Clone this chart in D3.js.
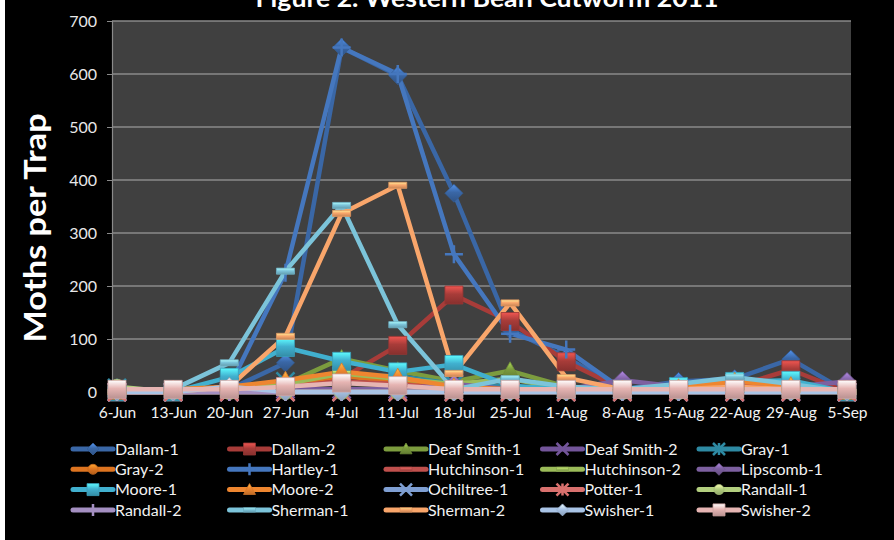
<!DOCTYPE html>
<html><head><meta charset="utf-8">
<script src="https://cdn.jsdelivr.net/npm/d3@7"></script>
<style>html,body{margin:0;padding:0;background:#fff;}svg{display:block;}</style>
</head><body>
<script>
const dates = ["6-Jun","13-Jun","20-Jun","27-Jun","4-Jul","11-Jul","18-Jul","25-Jul","1-Aug","8-Aug","15-Aug","22-Aug","29-Aug","5-Sep"];
const yTicks = [0,100,200,300,400,500,600,700];
const seriesNames = ["Dallam-1","Dallam-2","Deaf Smith-1","Deaf Smith-2","Gray-1","Gray-2","Hartley-1","Hutchinson-1","Hutchinson-2","Lipscomb-1","Moore-1","Moore-2","Ochiltree-1","Potter-1","Randall-1","Randall-2","Sherman-1","Sherman-2","Swisher-1","Swisher-2"];
const dallam1     = [3,0,5,55,650,597,375,118,65,5,20,25,62,0];
const dallam2     = [0,0,5,10,25,88,183,133,57,5,5,10,42,0];
const deafSmith1  = [5,0,5,15,63,40,20,40,10,5,5,5,5,0];
const deafSmith2  = [0,0,0,5,5,5,15,5,5,5,0,0,0,0];
const gray1       = [8,0,10,20,30,30,15,10,5,5,10,15,10,0];
const gray2       = [0,0,5,15,30,20,10,5,5,5,5,10,10,0];
const hartley1    = [5,0,10,225,650,600,260,110,80,5,10,15,10,0];
const hutchinson1 = [0,0,5,10,20,15,5,5,5,0,5,10,15,0];
const hutchinson2 = [0,0,5,15,35,25,15,25,5,5,5,5,5,0];
const lipscomb1   = [0,0,0,0,5,5,15,5,5,22,10,5,10,20];
const moore1      = [0,0,28,84,58,38,52,12,5,5,10,20,22,0];
const moore2      = [0,5,10,22,38,28,10,5,5,5,8,20,12,0];
const ochiltree1  = [0,0,0,0,0,0,0,0,0,0,0,0,0,0];
const potter1     = [0,0,0,0,0,0,0,0,0,0,0,0,0,0];
const randall1    = [10,0,0,0,0,0,0,0,0,0,0,0,0,0];
const randall2    = [0,0,0,0,0,0,0,0,0,0,0,0,0,5];
const sherman1    = [5,5,55,228,352,127,5,25,10,5,15,28,15,0];
const sherman2    = [0,0,10,105,337,390,35,168,27,5,5,10,5,0];
const swisher1    = [0,0,10,0,0,0,0,0,0,0,0,0,0,0];
const swisher2    = [5,5,5,10,17,12,5,5,5,5,5,5,5,5];
const seriesValues = [dallam1,dallam2,deafSmith1,deafSmith2,gray1,gray2,hartley1,hutchinson1,hutchinson2,lipscomb1,moore1,moore2,ochiltree1,potter1,randall1,randall2,sherman1,sherman2,swisher1,swisher2];
const colors = ["#3a67a6","#a83c39","#7c9c3e","#73559a","#2e8aa3","#dd7420","#4577be","#c0504d","#9bbb59","#7d60a0","#41b0cf","#ee8630","#7f9fd3","#d9716e","#b3cf7f","#a48fc1","#7cc4da","#f9a66b","#a9c4e6","#e6b5b3"];
const markerTypes = ["diamond","square","triangle","x","star","circle","plus","dash","dash"];

const W = 894, H = 540;
const svg = d3.select("body").append("svg").attr("width", W).attr("height", H);
const FONT = "Lato, 'Open Sans', sans-serif";
svg.append("rect").attr("x",5).attr("y",0).attr("width",W-5).attr("height",H).attr("fill","#000");

const x = d3.scalePoint().domain(dates).range([117, 847]);
const y = d3.scaleLinear().domain([0,700]).range([392, 21]);
const plotL = 112, plotR = 851;

const defs = svg.append("defs");
colors.forEach((c,i)=>{
  const g = defs.append("linearGradient").attr("id","g"+i).attr("x1",0).attr("y1",0).attr("x2",0).attr("y2",1);
  g.append("stop").attr("offset","0%").attr("stop-color", d3.color(c).brighter(1.0));
  g.append("stop").attr("offset","45%").attr("stop-color", c);
  g.append("stop").attr("offset","100%").attr("stop-color", d3.color(c).darker(0.6));
});

// plot area
svg.append("rect").attr("x",plotL).attr("y",y(700)).attr("width",plotR-plotL).attr("height",y(0)-y(700)).attr("fill","#404040");
svg.append("g").selectAll("line").data(yTicks.filter(d=>d>0)).join("line")
  .attr("x1",plotL).attr("x2",plotR).attr("y1",d=>y(d)).attr("y2",d=>y(d))
  .attr("stroke","#8a8a8a").attr("stroke-width",1.5);

// y axis
const ya = svg.append("g").attr("transform",`translate(${plotL},0)`)
  .call(d3.axisLeft(y).tickValues(yTicks).tickSize(5).tickPadding(10).tickFormat(d3.format("d")));
ya.select(".domain").attr("stroke","#8a8a8a").attr("stroke-width",1.2);
ya.selectAll(".tick line").attr("stroke","#8a8a8a");
ya.selectAll("text").attr("fill","#e8e8e8").style("font-family",FONT).style("font-size","16px");

// x axis
const xa = svg.append("g").attr("transform",`translate(0,${y(0)})`)
  .call(d3.axisBottom(x).tickSize(0).tickPadding(15));
xa.select(".domain").remove();
xa.selectAll("text").attr("fill","#f2f2f2").style("font-family",FONT).style("font-size","15.5px");

function markerPath(type, s){
  const h = s/2;
  switch(type){
    case "diamond": return `M0,${-h}L${h},0L0,${h}L${-h},0Z`;
    case "square": return `M${-h},${-h}H${h}V${h}H${-h}Z`;
    case "triangle": return `M0,${-h}L${h},${h*0.8}L${-h},${h*0.8}Z`;
    case "circle": return d3.symbol(d3.symbolCircle, s*s*0.55)();
    case "dash": return `M${-h},${-s*0.17}H${h}V${s*0.17}H${-h}Z`;
  }
  return "";
}
function drawMarker(g, type, i, s){
  const c = colors[i];
  if (type==="x"){
    const h=s/2;
    g.append("path").attr("d",`M${-h},${-h}L${h},${h}M${-h},${h}L${h},${-h}`).attr("stroke",c).attr("stroke-width",2.5).attr("fill","none");
  } else if (type==="plus"){
    const h=s/2;
    g.append("path").attr("d",`M${-h},0H${h}M0,${-h}V${h}`).attr("stroke",c).attr("stroke-width",2.5).attr("fill","none");
  } else if (type==="star"){
    const h=s/2;
    g.append("path").attr("d",`M${-h},${-h}L${h},${h}M${-h},${h}L${h},${-h}M0,${-h}V${h}`).attr("stroke",c).attr("stroke-width",2.5).attr("fill","none");
  } else {
    g.append("path").attr("d",markerPath(type,s)).attr("fill",`url(#g${i})`)
      .attr("stroke",d3.color(c).darker(0.3)).attr("stroke-width",0.8);
  }
}

// series
const line = d3.line().x((d,j)=>x(dates[j])).y(d=>y(d));
const sg = svg.append("g");
seriesNames.forEach((name,i)=>{
  const vals = seriesValues[i];
  sg.append("path").attr("d",line(vals)).attr("fill","none").attr("stroke",colors[i])
    .attr("stroke-width",4.5).attr("stroke-linejoin","round");
});
seriesNames.forEach((name,i)=>{
  const vals = seriesValues[i];
  const type = markerTypes[i%9];
  vals.forEach((v,j)=>{
    const g = sg.append("g").attr("transform",`translate(${x(dates[j])},${y(v)})`);
    drawMarker(g,type,i,18);
  });
});

// title
svg.append("text").attr("x",487).attr("y",7).attr("text-anchor","middle")
  .attr("fill","#fff").style("font-family",FONT).style("font-weight","bold").style("font-size","25px")
  .attr("textLength",463).attr("lengthAdjust","spacingAndGlyphs")
  .text("Figure 2.  Western Bean Cutworm 2011");

// y title
svg.append("text").attr("transform","translate(46,228) rotate(-90)").attr("text-anchor","middle")
  .attr("fill","#fff").style("font-family",FONT).style("font-weight","bold").style("font-size","31px")
  .attr("textLength",229).attr("lengthAdjust","spacingAndGlyphs")
  .text("Moths per Trap");

// legend
const lg = svg.append("g");
seriesNames.forEach((name,i)=>{
  const col = i%5, row = Math.floor(i/5);
  const lx = 73 + col*156.5, ly = 449 + row*20.3;
  const g = lg.append("g").attr("transform",`translate(${lx},${ly})`);
  g.append("line").attr("x1",0).attr("x2",40).attr("stroke",colors[i]).attr("stroke-width",5).attr("stroke-linecap","round");
  const mg = g.append("g").attr("transform","translate(20,0)");
  drawMarker(mg, markerTypes[i%9], i, 12);
  g.append("text").attr("x",42).attr("y",0).attr("dy","0.36em").attr("fill","#f2f2f2")
    .style("font-family",FONT).style("font-size","16px").text(name);
});
</script>
</body></html>
